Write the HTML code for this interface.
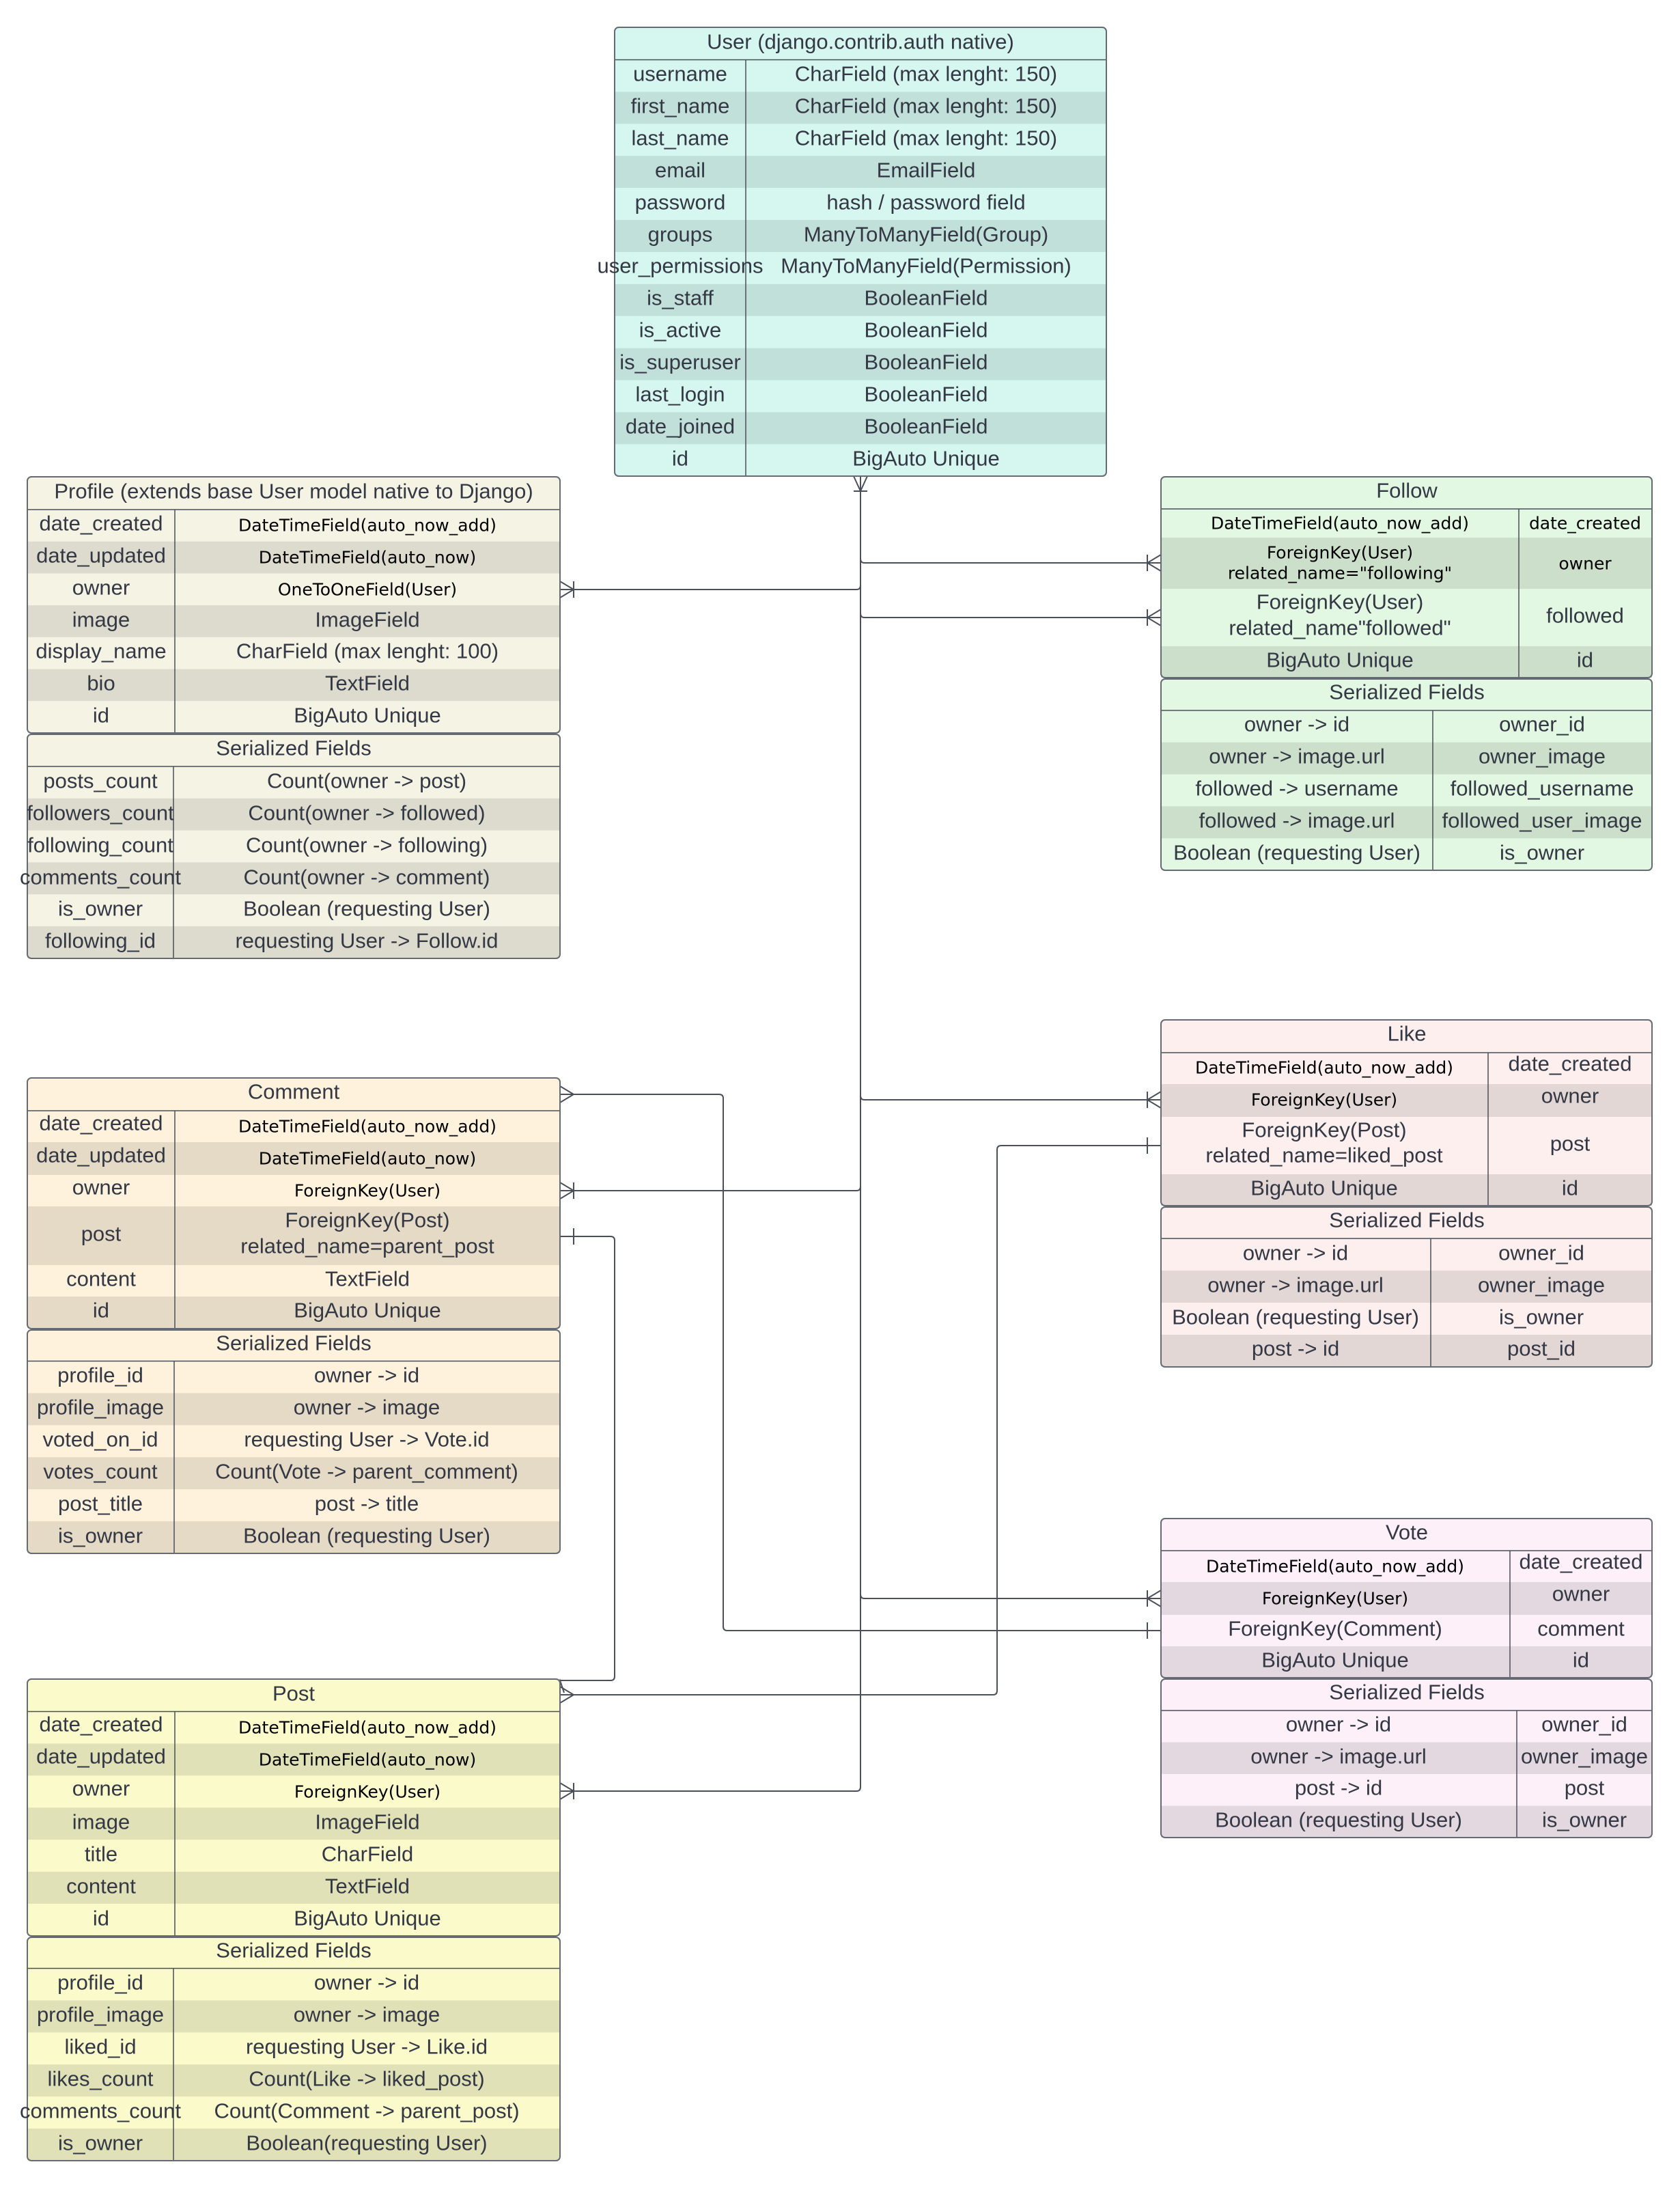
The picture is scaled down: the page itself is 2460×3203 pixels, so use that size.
<!DOCTYPE html>
<html><head><meta charset="utf-8"><style>
html,body{margin:0;padding:0;background:#fff;}
svg{display:block}
text{font-family:"Liberation Sans",sans-serif;font-size:31px;fill:#333844;text-anchor:middle;dominant-baseline:central}
text.d{font-family:"DejaVu Sans",sans-serif;font-size:25px;fill:#000}
.ln{stroke:#4a4f5a;stroke-width:2;fill:none}
.bd{stroke:#666b73;stroke-width:2;fill:none}
.dv{stroke:#4a4f5a;stroke-width:1.5}
</style></head><body>
<svg width="2460" height="3203" viewBox="0 0 2460 3203" xmlns="http://www.w3.org/2000/svg">

<!-- ===== CONNECTORS ===== -->
<g class="ln">
<path d="M1260 697 V2616 Q1260 2622 1254 2622 H820"/>
<path d="M1260 857 Q1260 863 1254 863 H820"/>
<path d="M1260 818 Q1260 824 1266 824 H1700"/>
<path d="M1260 898 Q1260 904 1266 904 H1700"/>
<path d="M1260 1604 Q1260 1610 1266 1610 H1700"/>
<path d="M1260 1737 Q1260 1743 1254 1743 H820"/>
<path d="M1260 2334 Q1260 2340 1266 2340 H1700"/>
<path d="M820 1602 H1053 Q1059 1602 1059 1608 V2381 Q1059 2387 1065 2387 H1700"/>
<path d="M820 1810 H894 Q900 1810 900 1816 V2454 Q900 2460 894 2460 H820"/>
<path d="M1700 1677 H1466 Q1460 1677 1460 1683 V2475 Q1460 2481 1454 2481 H820"/>
<!-- markers -->
<path d="M1250 697 L1260 719 L1270 697 M1250 719 H1270"/>
<path d="M820 851 L840 863 L820 875 M840 851 V875"/>
<path d="M1700 812 L1680 824 L1700 836 M1680 812 V836"/>
<path d="M1700 892 L1680 904 L1700 916 M1680 892 V916"/>
<path d="M1700 1598 L1680 1610 L1700 1622 M1680 1598 V1622"/>
<path d="M1680 1665 V1689"/>
<path d="M820 1731 L840 1743 L820 1755 M840 1731 V1755"/>
<path d="M820 1590 L840 1602 L820 1614"/>
<path d="M840 1798 V1822"/>
<path d="M1700 2328 L1680 2340 L1700 2352 M1680 2328 V2352"/>
<path d="M1680 2375 V2399"/>
<path d="M820 2610 L840 2622 L820 2634 M840 2610 V2634"/>
<path d="M820 2469 L840 2481 L820 2493"/>
<path d="M812 2478 L820 2460 L826 2478"/>
</g>

<!-- ===== USER ===== -->
<g>
<rect x="900" y="40" width="720" height="657" rx="6" fill="#d6f7f0"/>
<rect x="900" y="134.4" width="720" height="46.9" fill="#c2e0da"/>
<rect x="900" y="228.2" width="720" height="46.9" fill="#c2e0da"/>
<rect x="900" y="322" width="720" height="46.9" fill="#c2e0da"/>
<rect x="900" y="415.8" width="720" height="46.9" fill="#c2e0da"/>
<rect x="900" y="509.6" width="720" height="46.9" fill="#c2e0da"/>
<rect x="900" y="603.4" width="720" height="46.9" fill="#c2e0da"/>
<line class="dv" x1="900" y1="87.5" x2="1620" y2="87.5"/>
<line class="dv" x1="1092" y1="87.5" x2="1092" y2="697"/>
<rect class="bd" x="900" y="40" width="720" height="657" rx="6"/>
</g>

<g transform="translate(0,-3)">
<text x="1260" y="64">User (django.contrib.auth native)</text>
<text x="996" y="111">username</text><text x="1356" y="111">CharField (max lenght: 150)</text>
<text x="996" y="158">first_name</text><text x="1356" y="158">CharField (max lenght: 150)</text>
<text x="996" y="205">last_name</text><text x="1356" y="205">CharField (max lenght: 150)</text>
<text x="996" y="252">email</text><text x="1356" y="252">EmailField</text>
<text x="996" y="299">password</text><text x="1356" y="299">hash / password field</text>
<text x="996" y="346">groups</text><text x="1356" y="346">ManyToManyField(Group)</text>
<text x="996" y="392">user_permissions</text><text x="1356" y="392">ManyToManyField(Permission)</text>
<text x="996" y="439">is_staff</text><text x="1356" y="439">BooleanField</text>
<text x="996" y="486">is_active</text><text x="1356" y="486">BooleanField</text>
<text x="996" y="533">is_superuser</text><text x="1356" y="533">BooleanField</text>
<text x="996" y="580">last_login</text><text x="1356" y="580">BooleanField</text>
<text x="996" y="627">date_joined</text><text x="1356" y="627">BooleanField</text>
<text x="996" y="674">id</text><text x="1356" y="674">BigAuto Unique</text>
</g>

<!-- ===== PROFILE ===== -->
<g>
<rect x="40" y="698" width="780" height="375" rx="6" fill="#f5f3e4"/>
<rect x="40" y="792.7" width="780" height="46.7" fill="#dddbcd"/>
<rect x="40" y="886.1" width="780" height="46.7" fill="#dddbcd"/>
<rect x="40" y="979.5" width="780" height="46.7" fill="#dddbcd"/>
<line class="dv" x1="40" y1="746" x2="820" y2="746"/>
<line class="dv" x1="256" y1="746" x2="256" y2="1073"/>
<rect class="bd" x="40" y="698" width="780" height="375" rx="6"/>
<rect x="40" y="1075" width="780" height="328" rx="6" fill="#f5f3e4"/>
<rect x="40" y="1168.8" width="780" height="46.8" fill="#dddbcd"/>
<rect x="40" y="1262.4" width="780" height="46.8" fill="#dddbcd"/>
<rect x="40" y="1356" width="780" height="46" fill="#dddbcd"/>
<line class="dv" x1="40" y1="1122" x2="820" y2="1122"/>
<line class="dv" x1="254" y1="1122" x2="254" y2="1403"/>
<rect class="bd" x="40" y="1075" width="780" height="328" rx="6"/>
</g>
<g transform="translate(0,-3)">
<text x="430" y="722">Profile (extends base User model native to Django)</text>
<text x="148" y="769">date_created</text><text class="d" x="538" y="772">DateTimeField(auto_now_add)</text>
<text x="148" y="816">date_updated</text><text class="d" x="538" y="819">DateTimeField(auto_now)</text>
<text x="148" y="863">owner</text><text class="d" x="538" y="866">OneToOneField(User)</text>
<text x="148" y="910">image</text><text x="538" y="910">ImageField</text>
<text x="148" y="956">display_name</text><text x="538" y="956">CharField (max lenght: 100)</text>
<text x="148" y="1003">bio</text><text x="538" y="1003">TextField</text>
<text x="148" y="1050">id</text><text x="538" y="1050">BigAuto Unique</text>
<text x="430" y="1098">Serialized Fields</text>
<text x="147" y="1146">posts_count</text><text x="537" y="1146">Count(owner -&gt; post)</text>
<text x="147" y="1193">followers_count</text><text x="537" y="1193">Count(owner -&gt; followed)</text>
<text x="147" y="1240">following_count</text><text x="537" y="1240">Count(owner -&gt; following)</text>
<text x="147" y="1287">comments_count</text><text x="537" y="1287">Count(owner -&gt; comment)</text>
<text x="147" y="1333">is_owner</text><text x="537" y="1333">Boolean (requesting User)</text>
<text x="147" y="1380">following_id</text><text x="537" y="1380">requesting User -&gt; Follow.id</text>
</g>

<!-- ===== FOLLOW ===== -->
<g>
<rect x="1700" y="698" width="719" height="294" rx="6" fill="#e2f8e2"/>
<rect x="1700" y="787" width="719" height="75" fill="#cbdfcb"/>
<rect x="1700" y="946" width="719" height="46" fill="#cbdfcb"/>
<line class="dv" x1="1700" y1="745" x2="2419" y2="745"/>
<line class="dv" x1="2224" y1="745" x2="2224" y2="992"/>
<rect class="bd" x="1700" y="698" width="719" height="294" rx="6"/>
<rect x="1700" y="994" width="719" height="280" rx="6" fill="#e2f8e2"/>
<rect x="1700" y="1086.8" width="719" height="46.8" fill="#cbdfcb"/>
<rect x="1700" y="1180.4" width="719" height="46.8" fill="#cbdfcb"/>
<line class="dv" x1="1700" y1="1040" x2="2419" y2="1040"/>
<line class="dv" x1="2098" y1="1040" x2="2098" y2="1274"/>
<rect class="bd" x="1700" y="994" width="719" height="280" rx="6"/>
</g>
<g transform="translate(0,-3)">
<text x="2060" y="721">Follow</text>
<text class="d" x="1962" y="769">DateTimeField(auto_now_add)</text><text class="d" x="2321" y="769">date_created</text>
<text class="d" x="1962" y="812">ForeignKey(User)</text>
<text class="d" x="1962" y="842">related_name="following"</text><text class="d" x="2321" y="828">owner</text>
<text x="1962" y="884">ForeignKey(User)</text>
<text x="1962" y="922">related_name"followed"</text><text x="2321" y="904">followed</text>
<text x="1962" y="969">BigAuto Unique</text><text x="2321" y="969">id</text>
<text x="2060" y="1016">Serialized Fields</text>
<text x="1899" y="1063">owner -&gt; id</text><text x="2258" y="1063">owner_id</text>
<text x="1899" y="1110">owner -&gt; image.url</text><text x="2258" y="1110">owner_image</text>
<text x="1899" y="1157">followed -&gt; username</text><text x="2258" y="1157">followed_username</text>
<text x="1899" y="1204">followed -&gt; image.url</text><text x="2258" y="1204">followed_user_image</text>
<text x="1899" y="1251">Boolean (requesting User)</text><text x="2258" y="1251">is_owner</text>
</g>

<!-- ===== LIKE ===== -->
<g>
<rect x="1700" y="1493" width="719" height="272" rx="6" fill="#fcefee"/>
<rect x="1700" y="1587" width="719" height="48" fill="#e3d7d6"/>
<rect x="1700" y="1719" width="719" height="46" fill="#e3d7d6"/>
<line class="dv" x1="1700" y1="1541" x2="2419" y2="1541"/>
<line class="dv" x1="2179" y1="1541" x2="2179" y2="1765"/>
<rect class="bd" x="1700" y="1493" width="719" height="272" rx="6"/>
<rect x="1700" y="1767" width="719" height="234" rx="6" fill="#fcefee"/>
<rect x="1700" y="1860" width="719" height="47" fill="#e3d7d6"/>
<rect x="1700" y="1954" width="719" height="46" fill="#e3d7d6"/>
<line class="dv" x1="1700" y1="1813" x2="2419" y2="1813"/>
<line class="dv" x1="2095" y1="1813" x2="2095" y2="2001"/>
<rect class="bd" x="1700" y="1767" width="719" height="234" rx="6"/>
</g>
<g transform="translate(0,-3)">
<text x="2060" y="1516">Like</text>
<text class="d" x="1939" y="1566">DateTimeField(auto_now_add)</text><text x="2299" y="1560">date_created</text>
<text class="d" x="1939" y="1613">ForeignKey(User)</text><text x="2299" y="1607">owner</text>
<text x="1939" y="1657">ForeignKey(Post)</text>
<text x="1939" y="1694">related_name=liked_post</text><text x="2299" y="1677">post</text>
<text x="1939" y="1742">BigAuto Unique</text><text x="2299" y="1742">id</text>
<text x="2060" y="1789">Serialized Fields</text>
<text x="1897" y="1837">owner -&gt; id</text><text x="2257" y="1837">owner_id</text>
<text x="1897" y="1884">owner -&gt; image.url</text><text x="2257" y="1884">owner_image</text>
<text x="1897" y="1931">Boolean (requesting User)</text><text x="2257" y="1931">is_owner</text>
<text x="1897" y="1977">post -&gt; id</text><text x="2257" y="1977">post_id</text>
</g>

<!-- ===== COMMENT ===== -->
<g>
<rect x="40" y="1578" width="780" height="367" rx="6" fill="#fef2dc"/>
<rect x="40" y="1672" width="780" height="48" fill="#e5dac5"/>
<rect x="40" y="1766" width="780" height="86" fill="#e5dac5"/>
<rect x="40" y="1898" width="780" height="46" fill="#e5dac5"/>
<line class="dv" x1="40" y1="1626" x2="820" y2="1626"/>
<line class="dv" x1="256" y1="1626" x2="256" y2="1945"/>
<rect class="bd" x="40" y="1578" width="780" height="367" rx="6"/>
<rect x="40" y="1947" width="780" height="327" rx="6" fill="#fef2dc"/>
<rect x="40" y="2039.4" width="780" height="46.9" fill="#e5dac5"/>
<rect x="40" y="2133.2" width="780" height="46.9" fill="#e5dac5"/>
<rect x="40" y="2227" width="780" height="46" fill="#e5dac5"/>
<line class="dv" x1="40" y1="1992.5" x2="820" y2="1992.5"/>
<line class="dv" x1="255" y1="1992.5" x2="255" y2="2274"/>
<rect class="bd" x="40" y="1947" width="780" height="327" rx="6"/>
</g>
<g transform="translate(0,-3)">
<text x="430" y="1601">Comment</text>
<text x="148" y="1647">date_created</text><text class="d" x="538" y="1652">DateTimeField(auto_now_add)</text>
<text x="148" y="1694">date_updated</text><text class="d" x="538" y="1699">DateTimeField(auto_now)</text>
<text x="148" y="1741">owner</text><text class="d" x="538" y="1746">ForeignKey(User)</text>
<text x="148" y="1809">post</text>
<text x="538" y="1789">ForeignKey(Post)</text>
<text x="538" y="1827">related_name=parent_post</text>
<text x="148" y="1875">content</text><text x="538" y="1875">TextField</text>
<text x="148" y="1921">id</text><text x="538" y="1921">BigAuto Unique</text>
<text x="430" y="1969">Serialized Fields</text>
<text x="147" y="2016">profile_id</text><text x="537" y="2016">owner -&gt; id</text>
<text x="147" y="2063">profile_image</text><text x="537" y="2063">owner -&gt; image</text>
<text x="147" y="2110">voted_on_id</text><text x="537" y="2110">requesting User -&gt; Vote.id</text>
<text x="147" y="2157">votes_count</text><text x="537" y="2157">Count(Vote -&gt; parent_comment)</text>
<text x="147" y="2204">post_title</text><text x="537" y="2204">post -&gt; title</text>
<text x="147" y="2251">is_owner</text><text x="537" y="2251">Boolean (requesting User)</text>
</g>

<!-- ===== VOTE ===== -->
<g>
<rect x="1700" y="2223" width="719" height="233" rx="6" fill="#fdf0f9"/>
<rect x="1700" y="2316" width="719" height="48" fill="#e4d8e0"/>
<rect x="1700" y="2410" width="719" height="45" fill="#e4d8e0"/>
<line class="dv" x1="1700" y1="2270" x2="2419" y2="2270"/>
<line class="dv" x1="2211" y1="2270" x2="2211" y2="2456"/>
<rect class="bd" x="1700" y="2223" width="719" height="233" rx="6"/>
<rect x="1700" y="2458" width="719" height="232" rx="6" fill="#fdf0f9"/>
<rect x="1700" y="2550.5" width="719" height="46.5" fill="#e4d8e0"/>
<rect x="1700" y="2643.5" width="719" height="46" fill="#e4d8e0"/>
<line class="dv" x1="1700" y1="2504" x2="2419" y2="2504"/>
<line class="dv" x1="2221" y1="2504" x2="2221" y2="2690"/>
<rect class="bd" x="1700" y="2458" width="719" height="232" rx="6"/>
</g>
<g transform="translate(0,-3)">
<text x="2060" y="2246">Vote</text>
<text class="d" x="1955" y="2296">DateTimeField(auto_now_add)</text><text x="2315" y="2289">date_created</text>
<text class="d" x="1955" y="2343">ForeignKey(User)</text><text x="2315" y="2336">owner</text>
<text x="1955" y="2387">ForeignKey(Comment)</text><text x="2315" y="2387">comment</text>
<text x="1955" y="2433">BigAuto Unique</text><text x="2315" y="2433">id</text>
<text x="2060" y="2480">Serialized Fields</text>
<text x="1960" y="2527">owner -&gt; id</text><text x="2320" y="2527">owner_id</text>
<text x="1960" y="2574">owner -&gt; image.url</text><text x="2320" y="2574">owner_image</text>
<text x="1960" y="2620">post -&gt; id</text><text x="2320" y="2620">post</text>
<text x="1960" y="2667">Boolean (requesting User)</text><text x="2320" y="2667">is_owner</text>
</g>

<!-- ===== POST ===== -->
<g>
<rect x="40" y="2458" width="780" height="376" rx="6" fill="#fafacb"/>
<rect x="40" y="2552.4" width="780" height="46.9" fill="#e1e1b7"/>
<rect x="40" y="2646.2" width="780" height="46.9" fill="#e1e1b7"/>
<rect x="40" y="2740" width="780" height="46.9" fill="#e1e1b7"/>
<line class="dv" x1="40" y1="2505.5" x2="820" y2="2505.5"/>
<line class="dv" x1="256" y1="2505.5" x2="256" y2="2834"/>
<rect class="bd" x="40" y="2458" width="780" height="376" rx="6"/>
<rect x="40" y="2836" width="780" height="327" rx="6" fill="#fafacb"/>
<rect x="40" y="2928.4" width="780" height="46.9" fill="#e1e1b7"/>
<rect x="40" y="3022.2" width="780" height="46.9" fill="#e1e1b7"/>
<rect x="40" y="3116" width="780" height="46" fill="#e1e1b7"/>
<line class="dv" x1="40" y1="2881.5" x2="820" y2="2881.5"/>
<line class="dv" x1="254" y1="2881.5" x2="254" y2="3163"/>
<rect class="bd" x="40" y="2836" width="780" height="327" rx="6"/>
</g>
<g transform="translate(0,-3)">
<text x="430" y="2482">Post</text>
<text x="148" y="2527">date_created</text><text class="d" x="538" y="2532">DateTimeField(auto_now_add)</text>
<text x="148" y="2574">date_updated</text><text class="d" x="538" y="2579">DateTimeField(auto_now)</text>
<text x="148" y="2621">owner</text><text class="d" x="538" y="2626">ForeignKey(User)</text>
<text x="148" y="2670">image</text><text x="538" y="2670">ImageField</text>
<text x="148" y="2717">title</text><text x="538" y="2717">CharField</text>
<text x="148" y="2764">content</text><text x="538" y="2764">TextField</text>
<text x="148" y="2811">id</text><text x="538" y="2811">BigAuto Unique</text>
<text x="430" y="2858">Serialized Fields</text>
<text x="147" y="2905">profile_id</text><text x="537" y="2905">owner -&gt; id</text>
<text x="147" y="2952">profile_image</text><text x="537" y="2952">owner -&gt; image</text>
<text x="147" y="2999">liked_id</text><text x="537" y="2999">requesting User -&gt; Like.id</text>
<text x="147" y="3046">likes_count</text><text x="537" y="3046">Count(Like -&gt; liked_post)</text>
<text x="147" y="3093">comments_count</text><text x="537" y="3093">Count(Comment -&gt; parent_post)</text>
<text x="147" y="3140">is_owner</text><text x="537" y="3140">Boolean(requesting User)</text>
</g>
</svg>
</body></html>
